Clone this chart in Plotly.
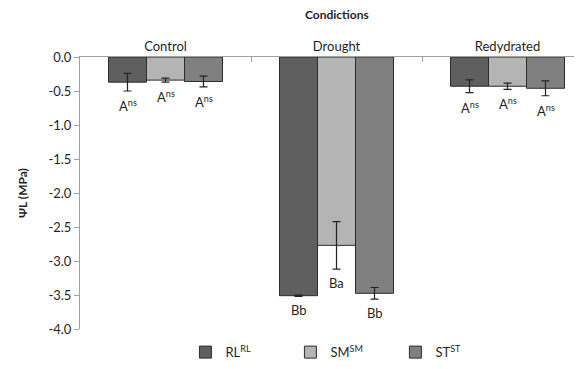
import plotly.graph_objects as go

conditions = ["Control", "Drought", "Redydrated"]
series_names = ["RL", "SM", "ST"]
legend_labels = ["RL<sup>RL</sup>", "SM<sup>SM</sup>", "ST<sup>ST</sup>"]

rl_values = [-0.37, -3.51, -0.43]
sm_values = [-0.34, -2.77, -0.43]
st_values = [-0.36, -3.475, -0.46]

rl_errors = [0.13, 0.01, 0.095]
sm_errors = [0.03, 0.35, 0.045]
st_errors = [0.08, 0.085, 0.11]

rl_letters = ["A<sup>ns</sup>", "Bb", "A<sup>ns</sup>"]
sm_letters = ["A<sup>ns</sup>", "Ba", "A<sup>ns</sup>"]
st_letters = ["A<sup>ns</sup>", "Bb", "A<sup>ns</sup>"]

y_ticks = [0.0, -0.5, -1.0, -1.5, -2.0, -2.5, -3.0, -3.5, -4.0]

colors = ["#5f5f5f", "#b4b4b4", "#808080"]
FONT = "Lato, 'Open Sans', sans-serif"
TEXT = "#1f1f1f"

values = [rl_values, sm_values, st_values]
errors = [rl_errors, sm_errors, st_errors]
letters = [rl_letters, sm_letters, st_letters]
xpos = list(range(len(conditions)))

fig = go.Figure()
for i in range(3):
    fig.add_trace(go.Bar(
        x=xpos, y=values[i], name=legend_labels[i],
        marker=dict(color=colors[i], line=dict(color="#2b2b2b", width=1)),
        error_y=dict(type="data", array=errors[i], color="#222222", thickness=1.2, width=4),
    ))

bar_w = (1 - 1/3) / 3
annotations = []
for i in range(3):
    for j, c in enumerate(xpos):
        off = (i - 1) * bar_w
        yb = values[i][j] - errors[i][j]
        annotations.append(dict(
            x=c + off, y=yb, xref="x", yref="y", text=letters[i][j],
            showarrow=False, yanchor="top", yshift=-4,
            font=dict(family=FONT, size=13, color=TEXT)))

annotations.append(dict(text="<b>Condictions</b>", x=1.0, xref="x", y=1,
                        yref="paper", yanchor="bottom", yshift=33, showarrow=False,
                        font=dict(family=FONT, size=12, color=TEXT)))

fig.update_layout(
    width=574, height=361,
    margin=dict(l=72, r=0, t=49, b=40, autoexpand=False),
    paper_bgcolor="white", plot_bgcolor="white",
    barmode="group", bargap=1/3, bargroupgap=0,
    font=dict(family=FONT, size=12, color=TEXT),
    showlegend=True,
    legend=dict(orientation="h", x=0.21, xanchor="left", y=-0.03, yanchor="top",
                entrywidth=60, entrywidthmode="pixels",
                font=dict(family=FONT, size=13, color=TEXT),
                itemclick=False, itemwidth=30),
    annotations=annotations,
)
fig.update_xaxes(
    side="top", range=[-0.5, -0.5 + 502/171], automargin=False,
    tickvals=xpos, ticktext=conditions, ticks="",
    showline=True, linecolor="#a0a0a0", linewidth=1,
    showgrid=False, zeroline=False,
    minor=dict(tickvals=[0.5, 1.5], ticks="inside", ticklen=5, tickcolor="#a0a0a0"),
    tickfont=dict(family=FONT, size=13, color=TEXT),
)
fig.update_yaxes(
    range=[-4, 0], tickvals=y_ticks, ticktext=[f"{v:.1f}" for v in y_ticks],
    ticks="outside", ticklen=5, tickcolor="#a0a0a0", automargin=False,
    showline=True, linecolor="#a0a0a0", linewidth=1,
    showgrid=False, zeroline=False,
    title=dict(text="<b>ΨL (MPa)</b>", standoff=18, font=dict(family=FONT, size=12, color=TEXT)),
    tickfont=dict(family=FONT, size=13, color=TEXT),
)

fig.write_html("out.html")
